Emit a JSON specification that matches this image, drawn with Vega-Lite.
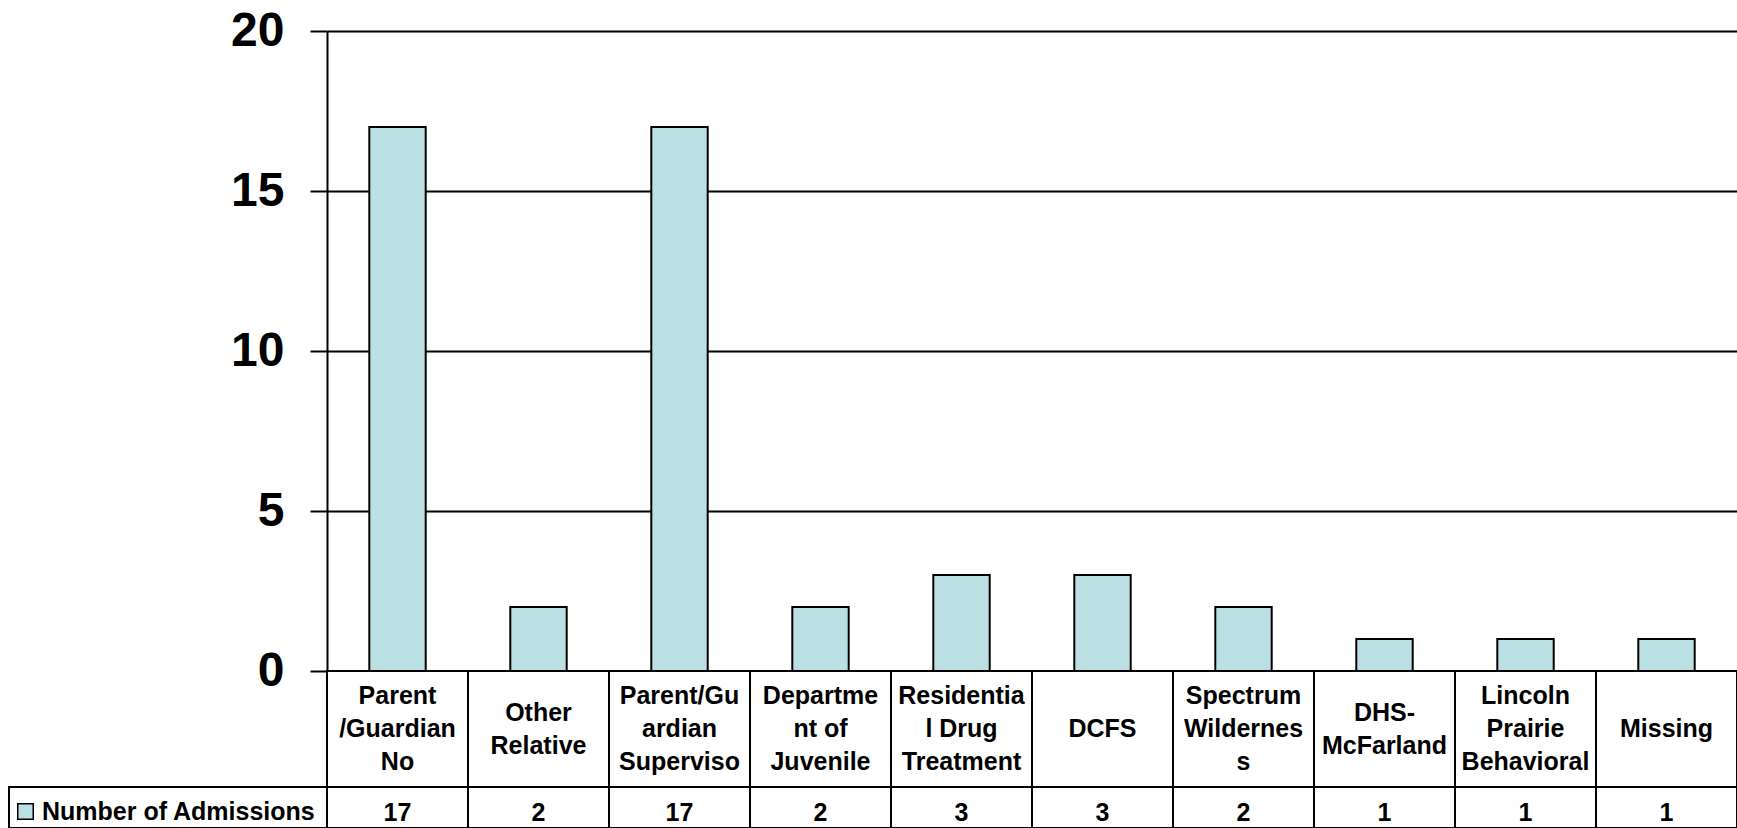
{
  "$schema": "https://vega.github.io/schema/vega-lite/v6.json",
  "padding": {"left": 8, "top": 7, "right": 0, "bottom": 0},
  "background": "white",
  "columns": 2,
  "spacing": 0,
  "bounds": "flush",
  "config": {
    "view": {"stroke": null},
    "font": "Liberation Sans",
    "text": {"font": "Liberation Sans", "fontWeight": "bold", "color": "black"}
  },
  "datasets": {
    "adm": [
      {"source": "Parent /Guardian No", "label": "Parent\n/Guardian\nNo", "admissions": 17, "series": "Number of Admissions"},
      {"source": "Other Relative", "label": "Other\nRelative", "admissions": 2, "series": "Number of Admissions"},
      {"source": "Parent/Guardian Superviso", "label": "Parent/Gu\nardian\nSuperviso", "admissions": 17, "series": "Number of Admissions"},
      {"source": "Department of Juvenile", "label": "Departme\nnt of\nJuvenile", "admissions": 2, "series": "Number of Admissions"},
      {"source": "Residential Drug Treatment", "label": "Residentia\nl Drug\nTreatment", "admissions": 3, "series": "Number of Admissions"},
      {"source": "DCFS", "label": "DCFS", "admissions": 3, "series": "Number of Admissions"},
      {"source": "Spectrum Wilderness", "label": "Spectrum\nWildernes\ns", "admissions": 2, "series": "Number of Admissions"},
      {"source": "DHS-McFarland", "label": "DHS-\nMcFarland", "admissions": 1, "series": "Number of Admissions"},
      {"source": "Lincoln Prairie Behavioral", "label": "Lincoln\nPrairie\nBehavioral", "admissions": 1, "series": "Number of Admissions"},
      {"source": "Missing", "label": "Missing", "admissions": 1, "series": "Number of Admissions"}
    ],
    "cell": [{"series": "Number of Admissions"}]
  },
  "concat": [
    {
      "width": 318, "height": 640,
      "data": {"values": []},
      "mark": {"type": "text"},
      "encoding": {}
    },
    {
      "width": 1410, "height": 640,
      "data": {"name": "adm"},
      "mark": {"type": "bar", "stroke": "black", "strokeWidth": 2},
      "encoding": {
        "x": {"field": "source", "type": "nominal", "sort": null, "axis": null,
              "scale": {"paddingInner": 0.6, "paddingOuter": 0.3}},
        "y": {"field": "admissions", "type": "quantitative",
              "scale": {"domain": [0, 20], "nice": false},
              "axis": {"values": [0, 5, 10, 15, 20], "title": null, "grid": true,
                       "gridColor": "black", "gridWidth": 2, "gridOpacity": 1,
                       "domainColor": "black", "domainWidth": 2,
                       "tickColor": "black", "tickWidth": 2, "tickSize": 17,
                       "labelFont": "Liberation Sans", "labelFontWeight": "bold",
                       "labelFontSize": 48, "labelColor": "black", "labelPadding": 26}},
        "fill": {"field": "series", "type": "nominal",
                 "scale": {"range": ["#BAE0E3"]},
                 "legend": {"orient": "none", "legendX": 4, "legendY": 768, "title": null,
                            "symbolType": "square", "symbolSize": 240,
                            "symbolStrokeColor": "black", "symbolStrokeWidth": 1.5,
                            "symbolOpacity": 1, "labelLimit": 500,
                            "labelFont": "Liberation Sans", "labelFontSize": 25,
                            "labelFontWeight": "bold", "labelColor": "black", "labelOffset": 4}}
      }
    },
    {
      "width": 318, "height": 116,
      "data": {"values": []},
      "mark": {"type": "text"},
      "encoding": {}
    },
    {
      "width": 1410, "height": 116,
      "data": {"name": "adm"},
      "layer": [
        {
          "mark": {"type": "rect", "fill": "white", "stroke": "black", "strokeWidth": 2},
          "encoding": {
            "x": {"field": "source", "type": "nominal", "sort": null, "axis": null,
                  "scale": {"paddingInner": 0, "paddingOuter": 0}}
          }
        },
        {
          "mark": {"type": "text", "fontSize": 25, "fontWeight": "bold", "lineBreak": "\n",
                   "lineHeight": 33, "baseline": "middle", "align": "center", "color": "black",
                   "dy": {"expr": "-(length(split(datum.label, '\\n')) - 1) * 16.5"}},
          "encoding": {
            "x": {"field": "source", "type": "nominal", "sort": null, "axis": null},
            "text": {"field": "label"}
          }
        }
      ]
    },
    {
      "width": 318, "height": 41,
      "data": {"name": "cell"},
      "mark": {"type": "rect", "fill": "white", "stroke": "black", "strokeWidth": 2},
      "encoding": {}
    },
    {
      "width": 1410, "height": 41,
      "data": {"name": "adm"},
      "layer": [
        {
          "mark": {"type": "rect", "fill": "white", "stroke": "black", "strokeWidth": 2},
          "encoding": {
            "x": {"field": "source", "type": "nominal", "sort": null, "axis": null,
                  "scale": {"paddingInner": 0, "paddingOuter": 0}}
          }
        },
        {
          "mark": {"type": "text", "fontSize": 25, "fontWeight": "bold",
                   "baseline": "middle", "align": "center", "color": "black", "dy": 5},
          "encoding": {
            "x": {"field": "source", "type": "nominal", "sort": null, "axis": null},
            "text": {"field": "admissions", "type": "quantitative"}
          }
        }
      ]
    }
  ]
}
